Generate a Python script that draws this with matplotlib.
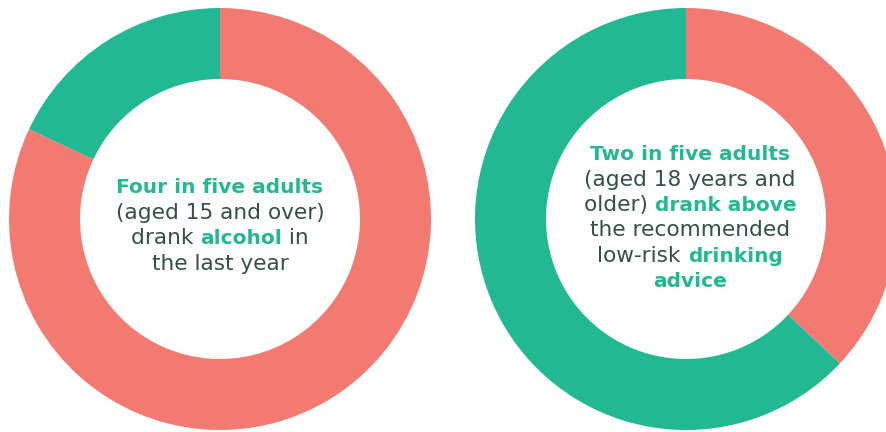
import matplotlib
matplotlib.use("Agg")
import matplotlib.pyplot as plt

# Shares for each ring (drawn clockwise from 12 o'clock)
left_labels = ["Drank alcohol", "Did not drink"]
left_values = [82, 18]
right_labels = ["Above advice", "Within advice"]
right_values = [37, 63]

SALMON = "#F37A71"
GREEN = "#22B893"
DARK = "#34504A"

left_colors = [SALMON, GREEN]
right_colors = [SALMON, GREEN]

# Centre captions: each line is a list of (text, highlighted) pieces
left_caption = [
    [("Four in five adults", True)],
    [("(aged 15 and over)", False)],
    [("drank ", False), ("alcohol", True), (" in", False)],
    [("the last year", False)],
]
right_caption = [
    [("Two in five adults", True)],
    [("(aged 18 years and", False)],
    [("older) ", False), ("drank above", True)],
    [("the recommended", False)],
    [("low-risk ", False), ("drinking", True)],
    [("advice", True)],
]

W, H = 887, 432
fig = plt.figure(figsize=(W / 100, H / 100), dpi=100)
ax = fig.add_axes([0, 0, 1, 1])
ax.set_xlim(0, W)
ax.set_ylim(0, H)
ax.set_aspect("equal")
ax.axis("off")

R = 211
RING = 71
for (cx, cy), vals, cols in [((220, 213), left_values, left_colors),
                             ((686, 213), right_values, right_colors)]:
    ax.pie(vals, colors=cols, startangle=90, counterclock=False,
           center=(cx, cy), radius=R,
           wedgeprops=dict(width=RING, linewidth=0), frame=True)
ax.set_xlim(0, W)
ax.set_ylim(0, H)
ax.axis("off")

FONT = "DejaVu Sans"
SIZE_REG = 15.6
SIZE_BOLD = 14.5
renderer = fig.canvas.get_renderer()


def style(bold):
    return dict(fontsize=SIZE_BOLD if bold else SIZE_REG, family=FONT,
                fontweight="bold" if bold else "normal")


def text_width(s, bold):
    t = ax.text(0, 0, s, **style(bold))
    w = t.get_window_extent(renderer=renderer).width
    t.remove()
    return w


def draw_caption(lines, cx, y_top, step):
    for i, pieces in enumerate(lines):
        y = H - (y_top + i * step)
        widths = [text_width(s, b) for s, b in pieces]
        x = cx - sum(widths) / 2
        for (s, b), w in zip(pieces, widths):
            ax.text(x, y, s, color=GREEN if b else DARK,
                    ha="left", va="center", **style(b))
            x += w


draw_caption(left_caption, 220, 187, 25.7)
draw_caption(right_caption, 690, 154, 25.5)

fig.savefig("out.png", dpi=100)
